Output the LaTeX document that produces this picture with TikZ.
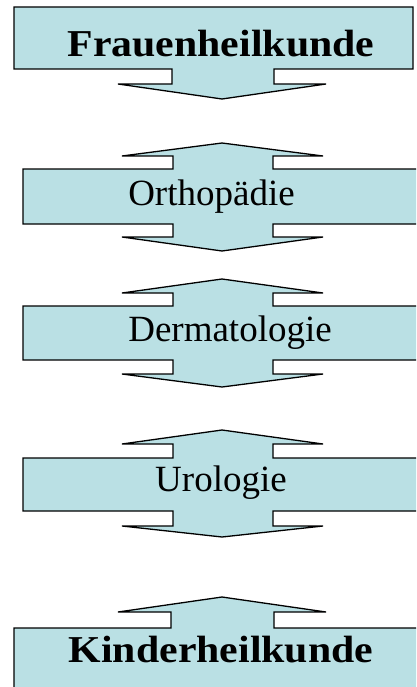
\documentclass[tikz,border=0pt]{standalone}
\usepackage{fontspec}
\setmainfont{Liberation Serif}
\definecolor{boxfill}{RGB}{186,224,228}
\tikzset{
  shapebox/.style={draw=black, line width=1.3pt, fill=boxfill, line join=miter},
  lbl/.style={anchor=base, inner sep=0pt, font=\fontsize{37}{40}\selectfont},
  blbl/.style={anchor=base, inner sep=0pt, font=\fontsize{38}{42}\selectfont\bfseries}
}
\begin{document}
\begin{tikzpicture}[x=1pt,y=-1pt]
\useasboundingbox (0,0) rectangle (416,687);
\clip (0,0) rectangle (416,687);
% top box with down arrow
\draw[shapebox] (14,7) -- (413,7) -- (413,69) -- (274,69) -- (274,84) -- (326,84) -- (222,99) -- (118,84) -- (172,84) -- (172,69) -- (14,69) -- cycle;
% middle boxes
\foreach \t/\hb/\bt/\bb/\db/\dt in {143/156/169/224/237/251, 279/293/306/360/374/387, 430/444/458/511/526/537}{
  \draw[shapebox] (222,\t) -- (323,\hb) -- (273,\hb) -- (273,\bt) -- (440,\bt) -- (440,\bb) -- (273,\bb) -- (273,\db) -- (323,\db) -- (222,\dt) -- (122,\db) -- (173,\db) -- (173,\bb) -- (23,\bb) -- (23,\bt) -- (173,\bt) -- (173,\hb) -- (122,\hb) -- cycle;
}
% bottom box with up arrow
\draw[shapebox] (222,597) -- (326,612) -- (274,612) -- (274,628) -- (440,628) -- (440,700) -- (14,700) -- (14,628) -- (171,628) -- (171,612) -- (118,612) -- cycle;
% labels
\node[blbl] (frauen) at (221,57) {\scalebox{1.1}[1]{Frauenheilkunde}};
\node[lbl] (ortho) at (211.5,205) {Orthopädie};
\node[lbl] (derma) at (230,341) {Dermatologie};
\node[lbl] (uro) at (221,491) {Urologie};
\node[blbl] (kinder) at (221,662) {\scalebox{1.1}[1]{Kinderheilkunde}};
\end{tikzpicture}
\end{document}
